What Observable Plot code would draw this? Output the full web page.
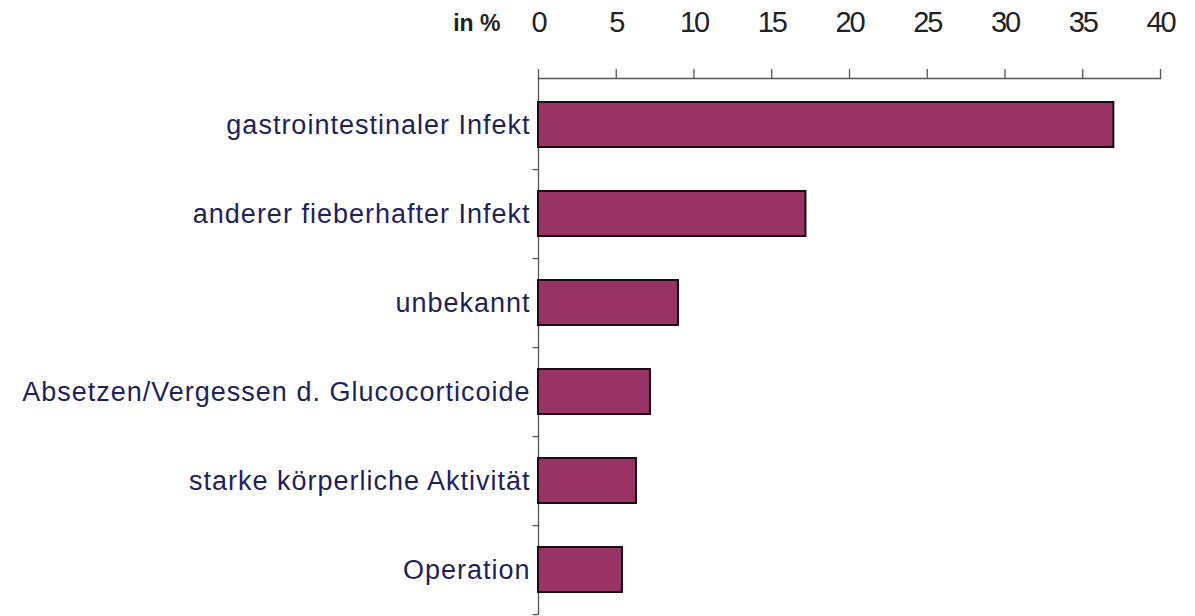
<!DOCTYPE html>
<html>
<head>
<meta charset="utf-8">
<script src="https://cdn.jsdelivr.net/npm/d3@7"></script>
<script src="https://cdn.jsdelivr.net/npm/@observablehq/plot@0.6"></script>
<style>
  html, body { margin: 0; padding: 0; background: #fff; }
  g[aria-label="y-axis tick label"] text { letter-spacing: 1.0px; }
  g[aria-label="x-axis tick label"] text { letter-spacing: -2px; }
</style>
</head>
<body>
<div id="chart"></div>
<script>
const categories = [
  "gastrointestinaler Infekt",
  "anderer fieberhafter Infekt",
  "unbekannt",
  "Absetzen/Vergessen d. Glucocorticoide",
  "starke körperliche Aktivität",
  "Operation"
];
const values = [37.0, 17.2, 9.0, 7.2, 6.3, 5.4];
const xTicks = [0, 5, 10, 15, 20, 25, 30, 35, 40];
const unitLabel = "in %";

const data = categories.map((c, i) => ({category: c, value: values[i]}));

const chart = Plot.plot({
  width: 1195,
  height: 616,
  marginTop: 78,
  marginLeft: 538,
  marginRight: 35,
  marginBottom: 1,
  style: {fontFamily: "'Liberation Sans', Arial, sans-serif", background: "#fff"},
  x: {domain: [0, 40], axis: null},
  y: {domain: categories, paddingInner: 0.5, paddingOuter: 0.25, axis: null},
  marks: [
    Plot.frame({anchor: "top", stroke: "#555", strokeWidth: 1.3}),
    Plot.ruleX([0], {stroke: "#555", strokeWidth: 1.3}),
    Plot.ruleY(categories, {y: d => d, x1: -0.35, x2: 0, dy: 44.6, stroke: "#555", strokeWidth: 1.3}),
    Plot.barX(data, {x: "value", y: "category", fill: "#993366", stroke: "#1a0a12", strokeWidth: 2}),
    Plot.axisX(xTicks, {anchor: "top", tickSize: 10, tickPadding: 37, fontSize: 29, fill: "#222", stroke: "#555", strokeWidth: 1.3, label: null, tickFormat: d => String(d)}),
    Plot.axisY({anchor: "left", tickSize: 0, tickPadding: 8, fontSize: 27, fill: "#1f1f5c", label: null}),
    Plot.text([unitLabel], {x: () => 0, frameAnchor: "top", dx: -38, dy: -64, textAnchor: "end", fontWeight: "bold", fontSize: 23, fill: "#222"})
  ]
});
document.getElementById("chart").appendChild(chart);
</script>
</body>
</html>
